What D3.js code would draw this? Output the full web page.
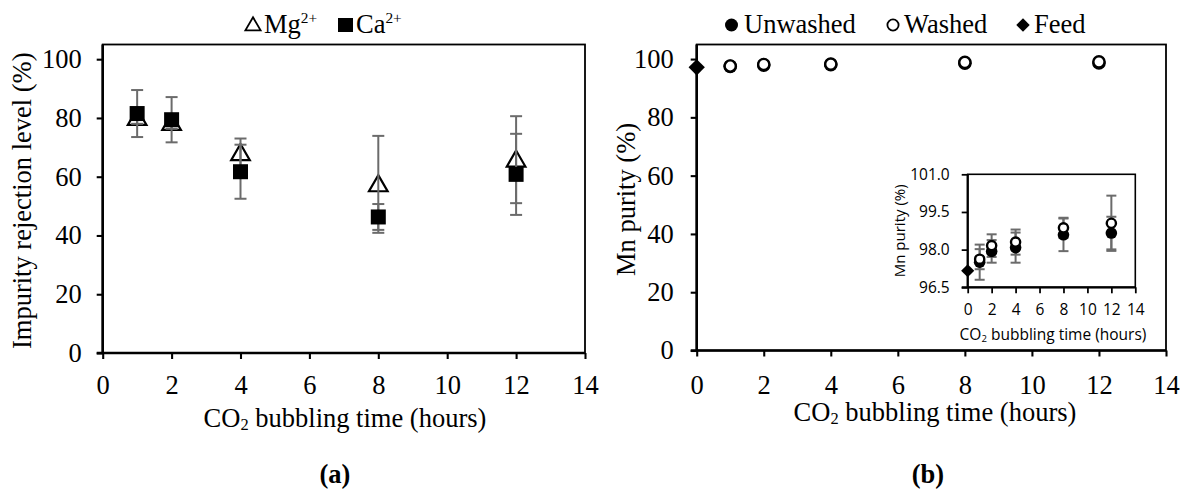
<!DOCTYPE html>
<html>
<head>
<meta charset="utf-8">
<script src="https://cdn.jsdelivr.net/npm/d3@7"></script>
<style>
  body { margin: 0; background: #fff; }
  svg { display: block; }
  .serif text, text.serif { font-family: "Liberation Serif", "Times New Roman", serif; fill: #000; }
  .sans text, text.sans { font-family: "Open Sans", "Liberation Sans", sans-serif; fill: #000; }
</style>
</head>
<body>
<div id="wrapper"></div>
<script>
// ---- data ----
const hours = [1, 2, 4, 8, 12];

// panel (a): impurity rejection level (%)
const mgRejection = [80.0, 78.3, 68.0, 57.4, 65.8];
const mgError     = [2.0, 2.0, 5.0, 16.5, 14.8];
const caRejection = [81.5, 79.4, 61.7, 46.3, 60.8];
const caError     = [8.0, 7.7, 9.2, 4.4, 13.8];

// panel (b): Mn purity (%)
const feedHours      = [0];
const feedPurity     = [97.16];
const unwashedPurity = [97.50, 97.93, 98.08, 98.59, 98.66];
const unwashedError  = [0.70, 0.45, 0.60, 0.65, 0.65];
const washedPurity   = [97.62, 98.16, 98.30, 98.87, 99.05];
const washedError    = [0.40, 0.45, 0.50, 0.40, 1.10];

// ticks
const xTicks = [0, 2, 4, 6, 8, 10, 12, 14];
const mainYTicks = [0, 20, 40, 60, 80, 100];
const insetYTicks = [96.5, 98.0, 99.5, 101.0];

const W = 1186, H = 490;
const FS = 26.5;      // main serif size
const FI = 15.5;      // inset sans size
const errColor = "#6b6b6b";

const svg = d3.select("#wrapper").append("svg")
  .attr("width", W)
  .attr("height", H);

// draws frame + axes for one plot area, returns scales
function frame(g, box, xDomain, yDomain, yTicks, opt) {
  const x = d3.scaleLinear().domain(xDomain).range([box.left, box.right]);
  const y = d3.scaleLinear().domain(yDomain).range([box.bottom, box.top]);

  g.append("rect")
    .attr("x", box.left).attr("y", box.top)
    .attr("width", box.right - box.left).attr("height", box.bottom - box.top)
    .attr("fill", "#fff").attr("stroke", "#000").attr("stroke-width", opt.frameW);

  const xAxis = d3.axisBottom(x).tickValues(xTicks).tickSize(opt.tick).tickSizeOuter(0)
    .tickFormat(d3.format("d")).tickPadding(opt.xPad);
  const yAxis = d3.axisLeft(y).tickValues(yTicks).tickSize(opt.tick).tickSizeOuter(0)
    .tickFormat(opt.yFormat).tickPadding(opt.yPad);

  const gx = g.append("g").attr("class", opt.cls)
    .attr("transform", `translate(0,${box.bottom})`).call(xAxis);
  const gy = g.append("g").attr("class", opt.cls)
    .attr("transform", `translate(${box.left},0)`).call(yAxis);

  [gx, gy].forEach(a => {
    a.select(".domain").attr("stroke", "#000").attr("stroke-width", opt.axisW);
    a.selectAll(".tick line").attr("stroke", "#000").attr("stroke-width", opt.axisW * 0.8);
    a.selectAll(".tick text").attr("font-size", opt.font).attr("fill", "#000");
  });
  gx.select(".domain").attr("d", `M${box.left - opt.tick},0H${box.right}`);
  gy.select(".domain").attr("d", `M0,${box.top}V${box.bottom}`);
  return { x, y };
}

function errorBars(g, x, y, xs, vals, errs, cap, w) {
  const eg = g.append("g").attr("stroke", errColor).attr("stroke-width", w);
  xs.forEach((h, i) => {
    const cx = x(h), top = y(vals[i] + errs[i]), bot = y(vals[i] - errs[i]);
    eg.append("line").attr("x1", cx).attr("x2", cx).attr("y1", top).attr("y2", bot);
    eg.append("line").attr("x1", cx - cap / 2).attr("x2", cx + cap / 2).attr("y1", top).attr("y2", top);
    eg.append("line").attr("x1", cx - cap / 2).attr("x2", cx + cap / 2).attr("y1", bot).attr("y2", bot);
  });
}

// CO2 label with subscript
function co2Label(g, x, yPos, size, cls) {
  const t = g.append("text").attr("class", cls)
    .attr("x", x).attr("y", yPos).attr("text-anchor", "middle").attr("font-size", size);
  t.append("tspan").text("CO");
  t.append("tspan").attr("font-size", size * 0.62).attr("dy", size * 0.12).text("2");
  t.append("tspan").attr("dy", -size * 0.12).text(" bubbling time (hours)");
}

function ion(t, name, size) {
  t.append("tspan").text(name);
  t.append("tspan").attr("font-size", size * 0.58).attr("dy", -size * 0.36).text("2+");
}

// ================= panel (a) =================
const ga = svg.append("g").attr("class", "serif");
const boxA = { left: 102.7, right: 585, top: 44.5, bottom: 353 };
const sa = frame(ga, boxA, [0, 14], [0, 105], mainYTicks, {
  tick: 6, xPad: 16, yPad: 15, font: FS, axisW: 2.6, frameW: 1.8, cls: "serif", yFormat: d3.format("d")
});

const triangle = d3.symbol().type(d3.symbolTriangle).size(150);
ga.append("g").selectAll("path").data(hours).join("path")
  .attr("d", triangle)
  .attr("transform", (d, i) => `translate(${sa.x(d)},${sa.y(mgRejection[i]) + 1.5})`)
  .attr("fill", "#fff").attr("stroke", "#000").attr("stroke-width", 2.2);
errorBars(ga, sa.x, sa.y, hours, mgRejection, mgError, 12, 2);
errorBars(ga, sa.x, sa.y, hours, caRejection, caError, 12, 2);
ga.append("g").selectAll("rect").data(hours).join("rect")
  .attr("x", d => sa.x(d) - 7.5)
  .attr("y", (d, i) => sa.y(caRejection[i]) - 7.5)
  .attr("width", 15).attr("height", 15).attr("fill", "#000");

// legend (a)
const legA = ga.append("g");
legA.append("path").attr("d", d3.symbol().type(d3.symbolTriangle).size(100))
  .attr("transform", "translate(253,26)")
  .attr("fill", "#fff").attr("stroke", "#000").attr("stroke-width", 1.8);
ion(legA.append("text").attr("x", 264).attr("y", 33).attr("font-size", FS), "Mg", FS);
legA.append("rect").attr("x", 338).attr("y", 18).attr("width", 15).attr("height", 14).attr("fill", "#000");
ion(legA.append("text").attr("x", 356).attr("y", 33).attr("font-size", FS), "Ca", FS);

ga.append("text")
  .attr("transform", `translate(31,${(boxA.top + boxA.bottom) / 2 + 2}) rotate(-90)`)
  .attr("text-anchor", "middle").attr("font-size", FS)
  .text("Impurity rejection level (%)");
co2Label(ga, 345, 427, FS, "serif");
ga.append("text").attr("x", 335).attr("y", 483).attr("text-anchor", "middle")
  .attr("font-size", FS).attr("font-weight", "bold").text("(a)");

// ================= panel (b) =================
const gb = svg.append("g").attr("class", "serif");
const boxB = { left: 696.7, right: 1166, top: 44.5, bottom: 350.5 };
const sb = frame(gb, boxB, [0, 14], [0, 105], mainYTicks, {
  tick: 6, xPad: 18.5, yPad: 17, font: FS, axisW: 2.6, frameW: 1.8, cls: "serif", yFormat: d3.format("d")
});

const diamond = d3.symbol().type(d3.symbolDiamond2);
function purityMarks(g, s, size, sw, dsize) {
  g.append("g").selectAll("circle").data(hours).join("circle")
    .attr("cx", d => s.x(d)).attr("cy", (d, i) => s.y(unwashedPurity[i]))
    .attr("r", size).attr("fill", "#000");
  g.append("g").selectAll("circle").data(hours).join("circle")
    .attr("cx", d => s.x(d)).attr("cy", (d, i) => s.y(washedPurity[i]))
    .attr("r", size - sw / 2).attr("fill", "#fff").attr("stroke", "#000").attr("stroke-width", sw);
  g.append("g").selectAll("path").data(feedHours).join("path")
    .attr("d", diamond.size(dsize))
    .attr("transform", (d, i) => `translate(${s.x(d)},${s.y(feedPurity[i])})`)
    .attr("fill", "#000");
}
purityMarks(gb, sb, 6.8, 2.4, 170);

// legend (b)
const legB = gb.append("g").attr("font-size", FS);
legB.append("circle").attr("cx", 731.5).attr("cy", 25).attr("r", 6.5).attr("fill", "#000");
legB.append("text").attr("x", 744).attr("y", 33).text("Unwashed");
legB.append("circle").attr("cx", 893).attr("cy", 25).attr("r", 5.6)
  .attr("fill", "#fff").attr("stroke", "#000").attr("stroke-width", 1.8);
legB.append("text").attr("x", 904).attr("y", 33).text("Washed");
legB.append("path").attr("d", diamond.size(115)).attr("transform", "translate(1023,25)").attr("fill", "#000");
legB.append("text").attr("x", 1034).attr("y", 33).text("Feed");

gb.append("text")
  .attr("transform", `translate(635,${(boxB.top + boxB.bottom) / 2 + 2}) rotate(-90)`)
  .attr("text-anchor", "middle").attr("font-size", FS)
  .text("Mn purity (%)");
co2Label(gb, 935, 421, FS, "serif");
gb.append("text").attr("x", 928).attr("y", 483).attr("text-anchor", "middle")
  .attr("font-size", FS).attr("font-weight", "bold").text("(b)");

// ---- inset ----
const gi = svg.append("g").attr("class", "sans");
const boxI = { left: 967.7, right: 1135.3, top: 174.3, bottom: 287.3 };
const si = frame(gi, boxI, [0, 14], [96.5, 101.0], insetYTicks, {
  tick: 6, xPad: 11, yPad: 12, font: FI, axisW: 2.2, frameW: 1.6, cls: "sans", yFormat: d3.format(".1f")
});
errorBars(gi, si.x, si.y, hours, unwashedPurity, unwashedError, 10, 2);
errorBars(gi, si.x, si.y, hours, washedPurity, washedError, 10, 2);
purityMarks(gi, si, 5.8, 2.4, 110);

gi.append("text")
  .attr("transform", `translate(905,${(boxI.top + boxI.bottom) / 2}) rotate(-90)`)
  .attr("text-anchor", "middle").attr("font-size", FI - 0.5)
  .text("Mn purity (%)");
co2Label(gi, 1053, 340, FI, "sans");
</script>
</body>
</html>
